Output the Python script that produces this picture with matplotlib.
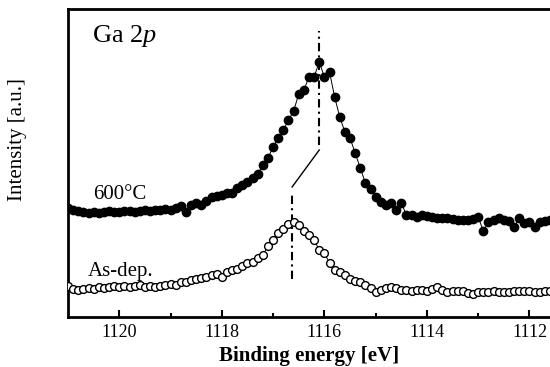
import matplotlib
matplotlib.use("Agg")
import matplotlib.pyplot as plt

plt.rcParams["font.family"] = ["Liberation Serif", "DejaVu Serif"]
plt.rcParams["mathtext.fontset"] = "custom"
plt.rcParams["mathtext.rm"] = "Liberation Serif"
plt.rcParams["mathtext.it"] = "Liberation Serif:italic"

# binding energy grid [eV], 0.1 eV steps
energy = [
    1121.0, 1120.9, 1120.8, 1120.7, 1120.6, 1120.5, 1120.4, 1120.3, 1120.2, 1120.1,
    1120.0, 1119.9, 1119.8, 1119.7, 1119.6, 1119.5, 1119.4, 1119.3, 1119.2, 1119.1,
    1119.0, 1118.9, 1118.8, 1118.7, 1118.6, 1118.5, 1118.4, 1118.3, 1118.2, 1118.1,
    1118.0, 1117.9, 1117.8, 1117.7, 1117.6, 1117.5, 1117.4, 1117.3, 1117.2, 1117.1,
    1117.0, 1116.9, 1116.8, 1116.7, 1116.6, 1116.5, 1116.4, 1116.3, 1116.2, 1116.1,
    1116.0, 1115.9, 1115.8, 1115.7, 1115.6, 1115.5, 1115.4, 1115.3, 1115.2, 1115.1,
    1115.0, 1114.9, 1114.8, 1114.7, 1114.6, 1114.5, 1114.4, 1114.3, 1114.2, 1114.1,
    1114.0, 1113.9, 1113.8, 1113.7, 1113.6, 1113.5, 1113.4, 1113.3, 1113.2, 1113.1,
    1113.0, 1112.9, 1112.8, 1112.7, 1112.6, 1112.5, 1112.4, 1112.3, 1112.2, 1112.1,
    1112.0, 1111.9, 1111.8, 1111.7, 1111.6,
]

# intensity [a.u.], 600 C anneal (filled) and as-deposited (open)
int_600 = [
    109, 107, 106, 105, 104, 105, 104, 105, 106, 105,
    105, 106, 106, 105, 106, 107, 106, 107, 107, 108,
    107, 109, 111, 105, 112, 114, 112, 116, 120, 121,
    122, 124, 124, 129, 132, 135, 139, 143, 152, 159,
    170, 179, 187, 197, 206, 223, 227, 240, 240, 255,
    240, 245, 220, 200, 185, 179, 164, 149, 134, 128,
    120, 115, 112, 114, 107, 114, 102, 102, 100, 102,
    101, 100, 99, 99, 99, 98, 97, 97, 97, 98,
    100, 86, 95, 97, 99, 97, 96, 90, 99, 94,
    95, 90, 95, 96, 97,
]
int_asdep = [
    31, 28, 27, 28, 29, 28, 30, 29, 30, 31,
    30, 31, 30, 31, 32, 30, 31, 30, 31, 32,
    33, 32, 35, 35, 37, 38, 39, 40, 42, 43,
    40, 45, 47, 48, 51, 54, 55, 59, 62, 71,
    77, 84, 88, 93, 95, 92, 86, 82, 77, 67,
    64, 54, 47, 45, 42, 38, 36, 35, 32, 29,
    25, 27, 29, 30, 29, 27, 27, 26, 27, 27,
    26, 28, 30, 27, 25, 26, 26, 26, 24, 23,
    25, 25, 25, 26, 25, 25, 25, 26, 26, 26,
    26, 25, 25, 26, 26,
]

# peak positions [eV] and marker line extents [a.u.]
peak_600 = 1116.1
peak_asdep = 1116.63
mark_600 = [172, 286]
mark_asdep = [38, 124]
link_y = [130, 167]

fig = plt.figure(figsize=(5.5, 3.67), dpi=100)
ax = fig.add_axes([68 / 550, 1 - 317 / 367, 1 - 68 / 550, 308 / 367])

ax.plot(energy, int_600, "-", color="black", lw=0.7,
        marker="o", ms=6.0, mfc="black", mec="black", zorder=3)
ax.plot(energy, int_asdep, "-", color="black", lw=0.7,
        marker="o", ms=5.6, mfc="white", mec="black", mew=1.0, zorder=3)

ax.plot([peak_600, peak_600], mark_600, color="black", lw=1.5,
        linestyle=(0, (4, 2, 1, 2)))
ax.plot([peak_asdep, peak_asdep], mark_asdep, color="black", lw=1.5,
        linestyle=(0, (4, 2, 1, 2)))
ax.plot([peak_asdep, peak_600], link_y, color="black", lw=1.0)

ax.set_xlim(1121, 1111.6)
ax.set_ylim(0, 308)

ax.set_xticks([1120, 1118, 1116, 1114, 1112])
ax.set_xticks([1119, 1117, 1115, 1113], minor=True)
ax.set_yticks([])
ax.tick_params(axis="x", which="major", direction="in", length=5, width=1.5,
               labelsize=13, pad=5)
ax.tick_params(axis="x", which="minor", direction="in", length=3, width=1.5)

for side in ["left", "bottom", "top"]:
    ax.spines[side].set_linewidth(2.0)
ax.spines["right"].set_visible(False)

ax.text(0.05, 0.893, r"Ga 2$\mathit{p}$", transform=ax.transAxes, fontsize=19,
        va="baseline")
ax.text(1120.51, 118, "600°C", fontsize=15, va="baseline")
ax.text(1120.62, 41, "As-dep.", fontsize=15, va="baseline")

ax.set_xlabel("Binding energy [eV]", fontsize=15, fontweight="bold", labelpad=4)
fig.text(18 / 550, 1 - 140 / 367, "Intensity [a.u.]", rotation=90,
         fontsize=15, ha="center", va="center")

fig.savefig("out.png", dpi=100)
